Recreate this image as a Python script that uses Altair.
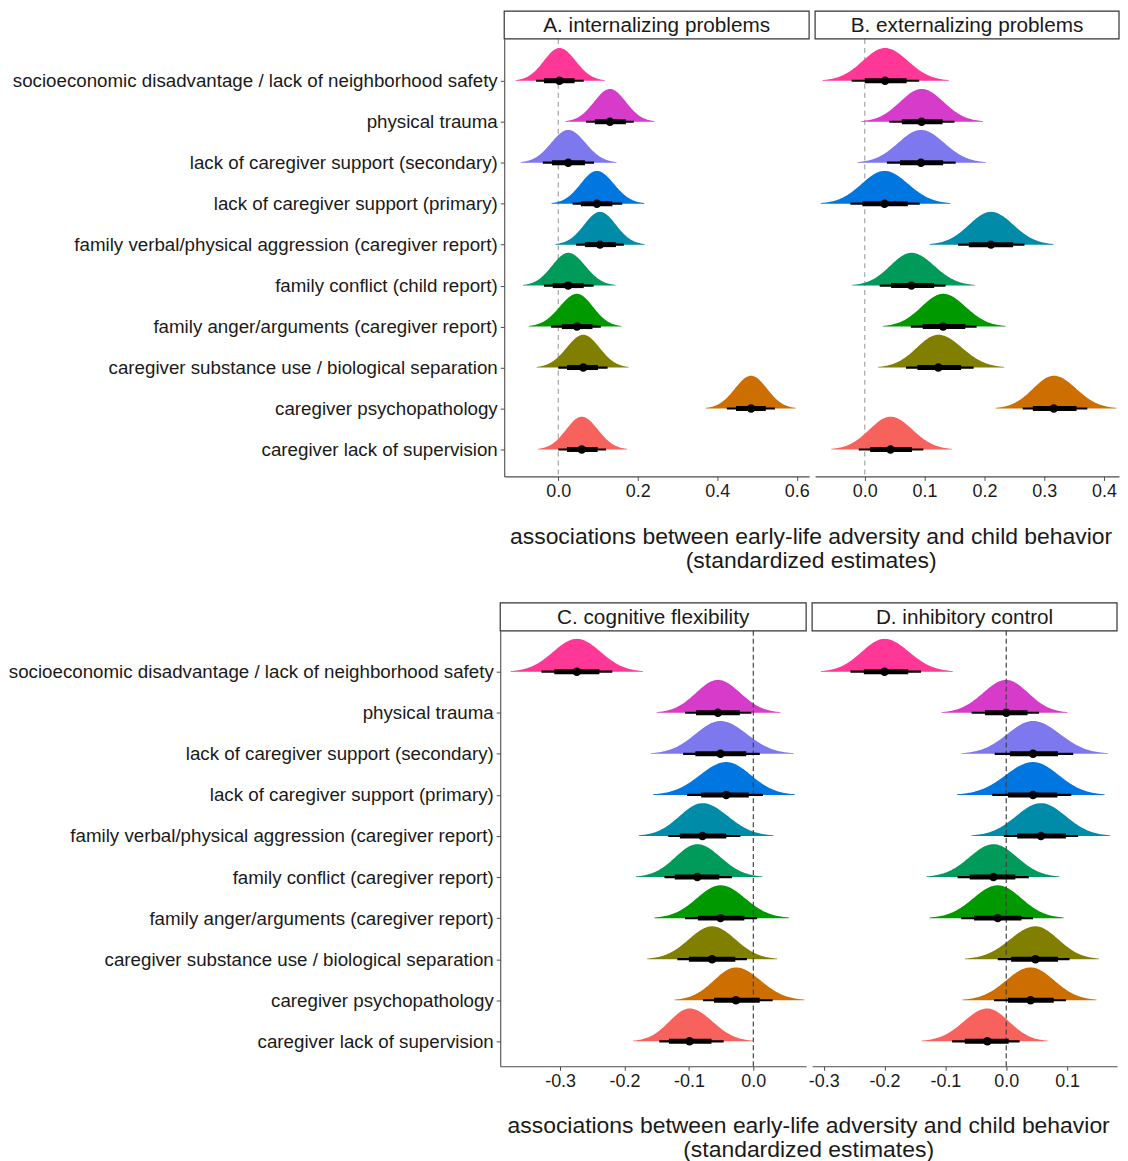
import json
import numpy as np
import pandas as pd
import altair as alt

FONT = "Liberation Sans"
TXT = "#1a1a1a"
AX = "#4d4d4d"

labels_top = [
    "socioeconomic disadvantage / lack of neighborhood safety",
    "physical trauma",
    "lack of caregiver support (secondary)",
    "lack of caregiver support (primary)",
    "family verbal/physical aggression (caregiver report)",
    "family conflict (child report)",
    "family anger/arguments (caregiver report)",
    "caregiver substance use / biological separation",
    "caregiver psychopathology",
    "caregiver lack of supervision",
]
labels_bottom = [
    "socioeconomic disadvantage / lack of neighborhood safety",
    "physical trauma",
    "lack of caregiver support (secondary)",
    "lack of caregiver support (primary)",
    "family verbal/physical aggression (caregiver report)",
    "family conflict (caregiver report)",
    "family anger/arguments (caregiver report)",
    "caregiver substance use / biological separation",
    "caregiver psychopathology",
    "caregiver lack of supervision",
]
colors = ["#FF3796", "#D63CC9", "#7E78EE", "#0077E0", "#008BA8",
          "#009A5A", "#009900", "#807F00", "#CC6E00", "#F8625C"]

# Panel A: internalizing problems
med_A = [0.003, 0.130, 0.025, 0.097, 0.105, 0.025, 0.047, 0.063, 0.485, 0.059]
lo66_A = [-0.036, 0.092, -0.016, 0.057, 0.067, -0.014, 0.009, 0.022, 0.447, 0.022]
hi66_A = [0.041, 0.170, 0.067, 0.136, 0.145, 0.064, 0.086, 0.100, 0.522, 0.099]
lo95_A = [-0.056, 0.070, -0.039, 0.036, 0.045, -0.036, -0.018, 0.000, 0.424, 0.000]
hi95_A = [0.064, 0.190, 0.090, 0.161, 0.165, 0.089, 0.107, 0.124, 0.545, 0.120]

# Panel B: externalizing problems
med_B = [0.034, 0.095, 0.094, 0.033, 0.211, 0.078, 0.131, 0.123, 0.316, 0.043]
lo66_B = [0.000, 0.062, 0.059, -0.004, 0.174, 0.044, 0.097, 0.088, 0.281, 0.009]
hi66_B = [0.070, 0.130, 0.131, 0.072, 0.248, 0.116, 0.168, 0.161, 0.354, 0.079]
lo95_B = [-0.022, 0.041, 0.037, -0.024, 0.156, 0.025, 0.077, 0.069, 0.264, -0.010]
hi95_B = [0.091, 0.150, 0.152, 0.092, 0.267, 0.135, 0.187, 0.182, 0.372, 0.098]

# Panel C: cognitive flexibility
med_C = [-0.274, -0.055, -0.051, -0.042, -0.079, -0.087, -0.051, -0.064, -0.027, -0.099]
lo66_C = [-0.309, -0.089, -0.090, -0.081, -0.114, -0.122, -0.086, -0.100, -0.061, -0.131]
hi66_C = [-0.239, -0.021, -0.011, -0.007, -0.042, -0.053, -0.014, -0.028, 0.010, -0.065]
lo95_C = [-0.329, -0.106, -0.109, -0.103, -0.132, -0.138, -0.106, -0.118, -0.078, -0.146]
hi95_C = [-0.219, -0.003, 0.010, 0.015, -0.020, -0.033, 0.006, -0.010, 0.030, -0.046]

# Panel D: inhibitory control
med_D = [-0.200, 0.000, 0.044, 0.044, 0.057, -0.021, -0.014, 0.048, 0.040, -0.031]
lo66_D = [-0.234, -0.035, 0.006, 0.003, 0.018, -0.060, -0.053, 0.008, 0.003, -0.068]
hi66_D = [-0.161, 0.035, 0.085, 0.084, 0.098, 0.015, 0.025, 0.085, 0.078, 0.004]
lo95_D = [-0.256, -0.057, -0.019, -0.023, -0.004, -0.080, -0.074, -0.014, -0.020, -0.089]
hi95_D = [-0.140, 0.054, 0.110, 0.107, 0.118, 0.037, 0.044, 0.104, 0.098, 0.022]

ticks_A = [0.0, 0.2, 0.4, 0.6]
ticks_B = [0.0, 0.1, 0.2, 0.3, 0.4]
ticks_C = [-0.3, -0.2, -0.1, 0.0]
ticks_D = [-0.3, -0.2, -0.1, 0.0, 0.1]

axis_title_lines = "associations between early-life adversity and child behavior\n(standardized estimates)"

XLAB = "datum.value < 0 ? '-' + format(-datum.value, '.1f') : format(datum.value, '.1f')"
one = pd.DataFrame({"a": [0]})


def panel(title, med, lo66, hi66, lo95, hi95, labels, xdom, ticks, x0, width, height,
          ydom, show_y, zero_color, zero_dash, zero_on_top, clip, pin_left, pin_bottom):
    n = len(med)
    pos = [n - 1 - k for k in range(n)]
    rows = []
    for k in range(n):
        m = med[k]
        sl = (m - lo95[k]) / 1.5
        sr = (hi95[k] - m) / 1.5
        xs_ = np.concatenate([np.linspace(m - 2.8 * sl, m, 70), np.linspace(m, m + 2.8 * sr, 71)[1:]])
        for x in xs_:
            s = sl if x < m else sr
            d = float(np.exp(-0.5 * ((x - m) / s) ** 2))
            rows.append({"x": float(x), "top": pos[k] + 0.8 * d, "base": pos[k], "col": colors[k]})
    dens = pd.DataFrame(rows)
    summ = pd.DataFrame({"med": med, "lo66": lo66, "hi66": hi66,
                         "lo95": lo95, "hi95": hi95, "pos": pos})

    xs = alt.Scale(domain=xdom, range=[x0, width], nice=False, zero=False)
    ys = alt.Scale(domain=ydom, nice=False, zero=False)
    xaxis = alt.Axis(values=ticks, labelExpr=XLAB, title=None, grid=False, tickSize=4,
                     labelPadding=2, domainColor=AX, tickColor=AX, domainWidth=1.1,
                     labelFontSize=18, labelColor=TXT, labelFont=FONT)
    if show_y:
        yaxis = alt.Axis(values=list(range(n)),
                         labelExpr=json.dumps(labels) + "[%d - datum.value]" % (n - 1),
                         title=None, grid=False, tickSize=4, labelPadding=3, offset=-x0,
                         domainColor=AX, tickColor=AX, domainWidth=1.1,
                         labelFontSize=18.8, labelColor=TXT, labelFont=FONT, labelLimit=700)
    else:
        yaxis = None

    area = alt.Chart(dens).mark_area(clip=clip).encode(
        x=alt.X("x:Q", scale=xs, axis=xaxis),
        y=alt.Y("top:Q", scale=ys, axis=yaxis),
        y2="base:Q",
        color=alt.Color("col:N", scale=None),
    )
    zero = alt.Chart(pd.DataFrame({"z": [0.0]})).mark_rule(
        color=zero_color, strokeDash=zero_dash, strokeWidth=1.2
    ).encode(x=alt.X("z:Q", scale=xs, axis=xaxis))
    thin = alt.Chart(summ).mark_rule(color="black", strokeWidth=2.2).encode(
        x=alt.X("lo95:Q", scale=xs, axis=xaxis), x2="hi95:Q",
        y=alt.Y("pos:Q", scale=ys, axis=yaxis))
    thick = alt.Chart(summ).mark_rule(color="black", strokeWidth=5).encode(
        x=alt.X("lo66:Q", scale=xs, axis=xaxis), x2="hi66:Q",
        y=alt.Y("pos:Q", scale=ys, axis=yaxis))
    pts = alt.Chart(summ).mark_circle(size=72, color="black", opacity=1).encode(
        x=alt.X("med:Q", scale=xs, axis=xaxis),
        y=alt.Y("pos:Q", scale=ys, axis=yaxis))
    strip = alt.Chart(one).mark_rect(fill="white", stroke="#333333", strokeWidth=1.2).encode(
        x=alt.value(x0), x2=alt.value(width), y=alt.value(-28), y2=alt.value(0))
    strip_txt = alt.Chart(one).mark_text(
        text=title, font=FONT, fontSize=20.8, color=TXT, align="center", baseline="middle"
    ).encode(x=alt.value((x0 + width) / 2), y=alt.value(-13))
    pin = alt.Chart(one).mark_rect(opacity=0).encode(
        x=alt.value(pin_left), x2=alt.value(pin_left + 1), y=alt.value(0), y2=alt.value(pin_bottom))

    if zero_on_top:
        layers = [area, zero, thin, thick, pts, strip, strip_txt, pin]
    else:
        layers = [zero, area, thin, thick, pts, strip, strip_txt, pin]
    return alt.layer(*layers).properties(width=width, height=height)


TOP_Y = [-0.657, 10.02]
BOT_Y = [-0.607, 9.995]

A = panel("A. internalizing problems", med_A, lo66_A, hi66_A, lo95_A, hi95_A, labels_top,
          [-0.136, 0.631], ticks_A, 0, 306, 439, TOP_Y, True, "#a6a6a6", [5, 4], False, False,
          -494, 469.5)
B = panel("B. externalizing problems", med_B, lo66_B, hi66_B, lo95_B, hi95_B, labels_top,
          [-0.083, 0.425], ticks_B, 0, 305, 439, TOP_Y, False, "#a6a6a6", [5, 4], False, True,
          0, 469.5)
C = panel("C. cognitive flexibility", med_C, lo66_C, hi66_C, lo95_C, hi95_C, labels_bottom,
          [-0.393, 0.082], ticks_C, -4, 303, 437, BOT_Y, True, "#444444", [5, 3], True, False,
          -4, 463)
D = panel("D. inhibitory control", med_D, lo66_D, hi66_D, lo95_D, hi95_D, labels_bottom,
          [-0.319, 0.182], ticks_D, 0, 306, 437, BOT_Y, False, "#444444", [5, 3], True, False,
          0, 463)


def axis_title(xcenter, yfirst, w, h):
    return alt.Chart(one).mark_text(
        text=axis_title_lines, lineBreak="\n", lineHeight=24.5, font=FONT, fontSize=23,
        color=TXT, align="center", baseline="middle"
    ).encode(x=alt.value(xcenter), y=alt.value(yfirst)).properties(width=w, height=h)


top = alt.hconcat(A, B, spacing=4)
bottom = alt.hconcat(C, D, spacing=-2)

chart = alt.vconcat(
    top,
    axis_title(308, 29.4, 610, 95),
    bottom,
    axis_title(305.5, 33.8, 600, 40),
    spacing=0,
).properties(
    padding={"left": 0, "top": 0, "right": 0, "bottom": 0}
).configure_view(stroke=None)

chart.save("out.html", embed_options={"renderer": "svg", "actions": False})
